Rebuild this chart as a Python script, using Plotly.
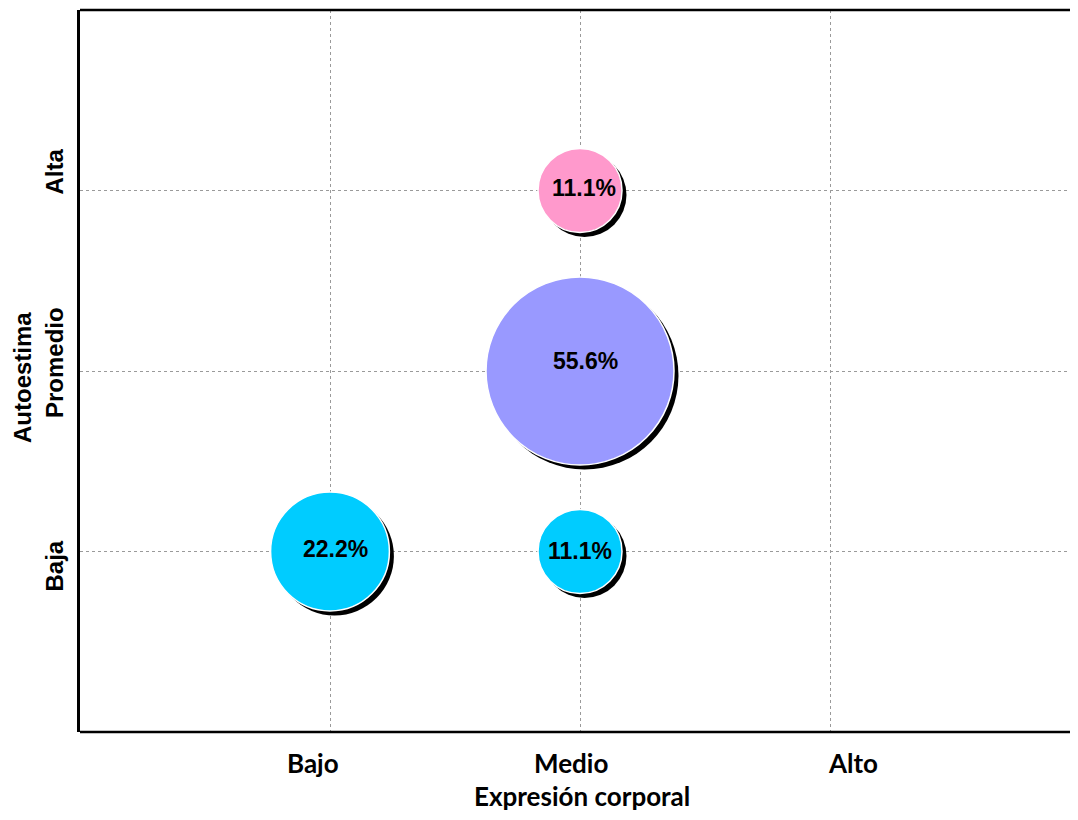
import plotly.graph_objects as go

# Data
x_categories = ["Bajo", "Medio", "Alto"]
y_categories = ["Baja", "Promedio", "Alta"]
bubble_x = ["Bajo", "Medio", "Medio", "Medio"]
bubble_y = ["Baja", "Baja", "Promedio", "Alta"]
bubble_pct = [22.2, 11.1, 55.6, 11.1]
bubble_colors = ["#00CCFF", "#00CCFF", "#9999FF", "#FF99CC"]
x_title = "Expresión corporal"
y_title = "Autoestima"

# Style (pixel nudges of text, as in the original)
x_label_shift = [-17, -9, 23]
y_label_shift = [-15, 8, 19]
bubble_label_shift = [(5, 3), (0, 1), (5, 10), (4, 3)]

W, H = 1062, 804
margin = dict(l=72, r=0, t=2, b=80)
plot_w = W - margin["l"] - margin["r"]
plot_h = H - margin["t"] - margin["b"]
px_per_x = 250.0
x_range = [0, plot_w / px_per_x]
y_range = [0, 4]

xi = [x_categories.index(v) + 1 for v in bubble_x]
yi = [y_categories.index(v) + 1 for v in bubble_y]

sizeref = 2 * max(bubble_pct) / (188 ** 2)

sh = 4.5
dx = sh * (x_range[1] - x_range[0]) / plot_w
dy = sh * (y_range[1] - y_range[0]) / plot_h

fig = go.Figure()
fig.add_trace(go.Scatter(
    x=[v + dx for v in xi], y=[v - dy for v in yi], mode="markers",
    marker=dict(size=bubble_pct, sizemode="area", sizeref=sizeref,
                color="black", line=dict(width=0), opacity=1),
    hoverinfo="skip", showlegend=False,
))
fig.add_trace(go.Scatter(
    x=xi, y=yi, mode="markers",
    marker=dict(size=bubble_pct, sizemode="area", sizeref=sizeref,
                color=bubble_colors, line=dict(width=1.5, color="white"), opacity=1),
    showlegend=False,
))

arial_b = dict(family="Liberation Sans, Arial", color="black", weight="bold")
lato_b = dict(family="Lato", color="black", weight="bold")

annotations = []
for xv, yv, pct, (sx, sy) in zip(xi, yi, bubble_pct, bubble_label_shift):
    annotations.append(dict(x=xv, y=yv, xref="x", yref="y", text=f"{pct:.1f}%",
                            showarrow=False, xshift=sx, yshift=sy,
                            font=dict(size=23, **arial_b)))
for i, (lab, s) in enumerate(zip(x_categories, x_label_shift)):
    annotations.append(dict(x=i + 1, y=0, xref="x", yref="paper", text=lab,
                            showarrow=False, xshift=s, yshift=-31,
                            xanchor="center", yanchor="middle",
                            font=dict(size=26, **lato_b)))
for i, (lab, s) in enumerate(zip(y_categories, y_label_shift)):
    annotations.append(dict(x=0, y=i + 1, xref="paper", yref="y", text=lab,
                            showarrow=False, xshift=-26, yshift=s, textangle=-90,
                            xanchor="center", yanchor="middle",
                            font=dict(size=24, **arial_b)))
annotations.append(dict(x=2, y=0, xref="x", yref="paper", text=x_title,
                        showarrow=False, xshift=2, yshift=-64,
                        xanchor="center", yanchor="middle",
                        font=dict(size=26, **lato_b)))
annotations.append(dict(x=0, y=0.5, xref="paper", yref="paper", text=y_title,
                        showarrow=False, xshift=-58, yshift=-7, textangle=-90,
                        xanchor="center", yanchor="middle",
                        font=dict(size=24, **arial_b)))

# top and bottom frame lines (no right border, as in the original)
shapes = [
    dict(type="line", xref="paper", yref="paper", x0=0, x1=1,
         y0=1, y1=1, line=dict(color="black", width=2.5)),
    dict(type="line", xref="paper", yref="paper", x0=0, x1=1,
         y0=0, y1=0, line=dict(color="black", width=2.5)),
]

fig.update_layout(
    width=W, height=H, margin=margin,
    paper_bgcolor="white", plot_bgcolor="white",
    showlegend=False, annotations=annotations, shapes=shapes,
)
fig.update_xaxes(
    range=x_range, tickvals=[1, 2, 3], showticklabels=False,
    showgrid=True, gridcolor="#9a9a9a", griddash="dot", gridwidth=1,
    showline=False, zeroline=False, ticks="",
)
fig.update_yaxes(
    range=y_range, tickvals=[1, 2, 3], showticklabels=False,
    showgrid=True, gridcolor="#9a9a9a", griddash="dot", gridwidth=1,
    showline=True, linecolor="black", linewidth=2.5, mirror=False,
    zeroline=False, ticks="",
)

fig.write_html("out.html")
